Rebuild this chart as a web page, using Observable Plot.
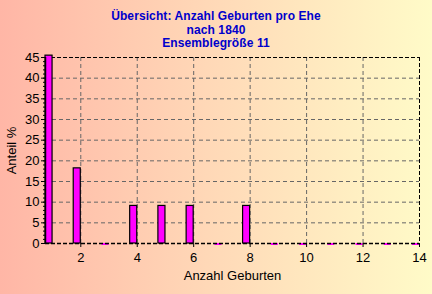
<!DOCTYPE html>
<html><head><meta charset="utf-8">
<script src="https://cdn.jsdelivr.net/npm/d3@7"></script>
<script src="https://cdn.jsdelivr.net/npm/@observablehq/plot@0.6"></script>
<style>
html,body{margin:0;padding:0;}
#wrap{position:relative;width:432px;height:294px;overflow:hidden;
 background:linear-gradient(90deg,#ffb6a6 0%,#ffd6b6 45%,#fffbc8 100%);
 font-family:"Liberation Sans",Arial,sans-serif;}
#title{position:absolute;left:0;top:10px;width:432px;text-align:center;color:#0000cc;
 font-family:"Liberation Sans",Arial,sans-serif;font-weight:bold;font-size:12px;letter-spacing:0.1px;line-height:13.5px;z-index:2;}
#chart svg{background:transparent;position:absolute;left:0;top:0;}
</style></head><body>
<div id="wrap"><div id="title"></div><div id="chart"></div></div>
<script>
const titleLines = ["Übersicht: Anzahl Geburten pro Ehe", "nach 1840", "Ensemblegröße 11"];
const births = [1,2,3,4,5,6,7,8,9,10,11,12,13,14];
const shares = [45.45,18.18,0,9.09,9.09,9.09,0,9.09,0,0,0,0,0,0];
const xTicks = [2,4,6,8,10,12,14];
const yTicks = [0,5,10,15,20,25,30,35,40,45];
const xLabel = "Anzahl Geburten";
const yLabel = "Anteil %";

document.getElementById("title").innerHTML = titleLines.join("<br>");
const data = births.map((b,i)=>({b, s: shares[i]}));
const barW = 0.25;
const xMin = 0.75, xMax = 14;

const chart = Plot.plot({
  width: 432, height: 294,
  marginLeft: 45, marginRight: 13, marginTop: 57, marginBottom: 51,
  style: {background: "transparent", fontFamily: "Liberation Sans, Arial, sans-serif", fontSize: "13px", color: "#000"},
  x: {domain: [xMin, xMax], label: null},
  y: {domain: [0, 45], label: null},
  marks: [
    Plot.ruleX(xTicks.filter(t => t < xMax), {stroke: "#666", strokeDasharray: "4,3", strokeWidth: 1}),
    Plot.ruleY(yTicks.filter(t => t > 0 && t < 45), {stroke: "#666", strokeDasharray: "4,3", strokeWidth: 1}),
    Plot.ruleY([45], {stroke: "#000", strokeDasharray: "4,2"}),
    Plot.ruleX([xMax], {stroke: "#000", strokeDasharray: "4,2"}),
    Plot.ruleY(data.filter(d => d.s === 0), {x1: d => d.b - barW, x2: d => d.b, y: 0, stroke: "#ff00ff", strokeWidth: 2, dy: 0.5}),
    Plot.ruleY([0], {stroke: "#000", strokeDasharray: "4,2", strokeWidth: 1.5}),
    Plot.rectY(data.filter(d => d.s > 0), {x1: d => d.b - barW, x2: d => d.b, y1: 0, y2: "s", fill: "#ff00ff", stroke: "#000", strokeWidth: 1.2}),
    Plot.ruleX([xMin], {stroke: "#000", strokeWidth: 1.5}),
    Plot.axisY(d3.range(0, 46, 1), {tickSize: 2, text: null, stroke: "#000", label: null}),
    Plot.axisY(yTicks, {tickSize: 4, tickPadding: 2, fontSize: 13, label: yLabel, labelAnchor: "center", labelArrow: "none", labelOffset: 39}),
    Plot.axisX(xTicks, {tickSize: 4, tickPadding: 5, fontSize: 13, label: xLabel, labelAnchor: "center", labelArrow: "none", labelOffset: 36})
  ]
});
document.getElementById("chart").appendChild(chart);
</script>
</body></html>
